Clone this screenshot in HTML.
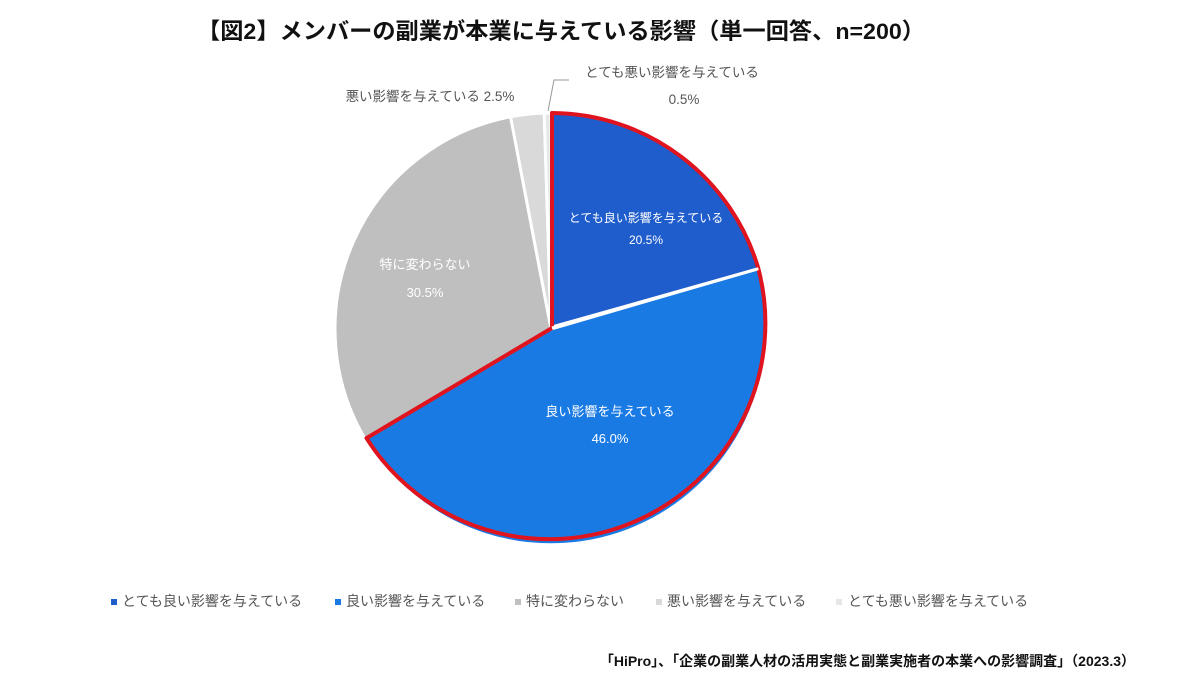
<!DOCTYPE html>
<html><head><meta charset="utf-8"><style>
body{margin:0;background:#fff;width:1200px;height:691px;overflow:hidden;font-family:"Liberation Sans","Noto Sans CJK JP",sans-serif}
</style></head><body>
<svg width="1200" height="691" viewBox="0 0 1200 691" xmlns="http://www.w3.org/2000/svg" font-family="Liberation Sans, Noto Sans CJK JP, sans-serif">
<text x="561" y="39" text-anchor="middle" font-size="22.5" font-weight="bold" fill="#111" textLength="728" lengthAdjust="spacingAndGlyphs">【図2】メンバーの副業が本業に与えている影響（単一回答、n=200）</text>
<g stroke="#fff" stroke-width="3">
<path d="M551,329 L510.5,116.8 A216,216 0 0 1 544.2,113.1 Z" fill="#d9d9d9"/>
<path d="M551,329 L544.2,113.1 A216,216 0 0 1 551,113 Z" fill="#e6e6e6"/>
<path d="M551,329 L365.1,438.9 A216,216 0 0 1 510.5,116.8 Z" fill="#bfbfbf"/>
<path d="M551,329 L758.4,268.7 A216,216 0 0 1 365.1,438.9 Z" fill="#1a7ae4"/>
<path d="M552,327 L552,113 A216,216 0 0 1 758.4,268.7 Z" fill="#1f5ccc"/>
</g>
<path d="M552,328 L552,113 A216,216 0 0 1 758.4,268.7 A216,216 0 0 1 366.5,438.1 Z" fill="none" stroke="#e0141e" stroke-width="4" stroke-linejoin="round"/>
<line x1="552" y1="328" x2="758.4" y2="268.7" stroke="#fff" stroke-width="3"/>
<polyline points="548,111 554,80 569,80" fill="none" stroke="#999" stroke-width="1"/>
<g font-size="13.5" fill="#555">
<text x="672" y="77" text-anchor="middle">とても悪い影響を与えている</text>
<text x="684" y="104" text-anchor="middle">0.5%</text>
<text x="430" y="101" text-anchor="middle">悪い影響を与えている 2.5%</text>
</g>
<g font-size="13" fill="#fff" text-anchor="middle">
<text x="646" y="222" font-size="12">とても良い影響を与えている</text>
<text x="646" y="244" font-size="12">20.5%</text>
<text x="610" y="416">良い影響を与えている</text>
<text x="610" y="443">46.0%</text>
<text x="425" y="269">特に変わらない</text>
<text x="425" y="297">30.5%</text>
</g>
<g font-size="14" fill="#555">
<rect x="111" y="599" width="6" height="6" fill="#1f5ccc"/><text x="122" y="606">とても良い影響を与えている</text>
<rect x="335" y="599" width="6" height="6" fill="#1a7ae4"/><text x="346" y="606">良い影響を与えている</text>
<rect x="515" y="599" width="6" height="6" fill="#bfbfbf"/><text x="526" y="606">特に変わらない</text>
<rect x="656" y="599" width="6" height="6" fill="#d9d9d9"/><text x="667" y="606">悪い影響を与えている</text>
<rect x="836" y="599" width="6" height="6" fill="#e6e6e6"/><text x="848" y="606">とても悪い影響を与えている</text>
</g>
<text x="1135" y="666" text-anchor="end" font-size="14" font-weight="bold" fill="#111">「HiPro」、「企業の副業人材の活用実態と副業実施者の本業への影響調査」（2023.3）</text>
</svg>
</body></html>
